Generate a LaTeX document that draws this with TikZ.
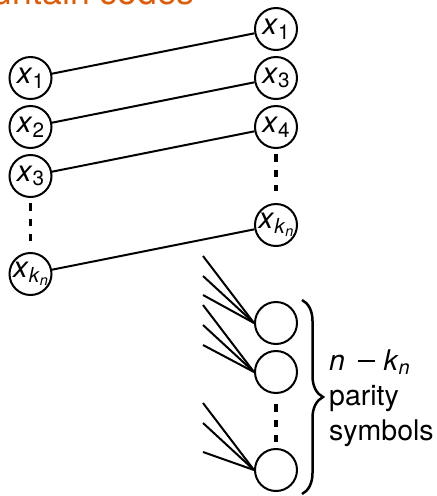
\documentclass[tikz,border=0pt]{standalone}
\usepackage{fontspec}
\setmainfont{TeX Gyre Heros}
\usetikzlibrary{decorations.pathreplacing}
\definecolor{titleorange}{RGB}{217,95,14}
% lowered, reduced subscript set in the text font
\newcommand{\lowsub}[1]{\raisebox{-0.16em}{\scalebox{0.7}{#1}}}
\newcommand{\xsym}[1]{\textit{x}\lowsub{#1}}
\newcommand{\xkn}{\textit{x}\lowsub{\textit{k}\lowsub{\textit{n}}}}
% long minus bar between the terms of the count
\newcommand{\minusbar}{\hspace{0.45em}\rule[0.28em]{0.6em}{0.07em}\hspace{0.3em}}

\begin{document}
\begin{tikzpicture}[x=1pt,y=-1pt,
  sym/.style={circle, draw, line width=2pt, minimum size=42pt, inner sep=0pt,
              font=\fontsize{29.5}{29.5}\selectfont},
  wire/.style={line width=2pt},
  gapline/.style={line width=3.2pt, dash pattern=on 7.5pt off 8pt},
  bracestyle/.style={line width=2.5pt, decorate,
              decoration={brace, amplitude=21pt}},
]
\useasboundingbox (0,0) rectangle (437,496);
\clip (0,0) rectangle (437,496);

% title
\node[anchor=base east, text=titleorange, inner sep=0pt,
      font=\fontsize{35.6}{40}\selectfont] (title) at (195,4.5) {Fountain codes};

% source symbols
\node[sym] (l1) at (30.5,78)  {\xsym{1}};
\node[sym] (l2) at (30.5,127) {\xsym{2}};
\node[sym] (l3) at (30.5,176) {\xsym{3}};
\node[sym] (lk) at (30.5,274) {\xkn};

% systematic part of the encoded stream
\node[sym] (r1) at (276,29)  {\xsym{1}};
\node[sym] (r3) at (276,78)  {\xsym{3}};
\node[sym] (r4) at (276,127) {\xsym{4}};
\node[sym] (rk) at (276,225) {\xkn};

% parity symbols
\node[sym] (p1) at (276,323) {};
\node[sym] (p2) at (276,372) {};
\node[sym] (p3) at (276,470) {};

% permutation wires
\draw[wire] (l1) -- (r1);
\draw[wire] (l2) -- (r3);
\draw[wire] (l3) -- (r4);
\draw[wire] (lk) -- (rk);

% vertical ellipses
\draw[gapline, shorten <=5pt, shorten >=11pt] (l3) -- (lk);
\draw[gapline, shorten <=5pt, shorten >=12pt] (r4) -- (rk);
\draw[gapline, shorten <=10pt, shorten >=6pt] (p2) -- (p3);

% inputs to the parity symbols
\coordinate (a1) at (203,256);
\coordinate (a2) at (203,276);
\coordinate (a3) at (203,295);
\coordinate (b1) at (203,305);
\coordinate (b2) at (203,325);
\coordinate (b3) at (203,345);
\coordinate (c1) at (203,403);
\coordinate (c2) at (203,423);
\coordinate (c3) at (203,452);
\foreach \s in {a1,a2,a3} \draw[wire] (\s) -- (p1.west);
\foreach \s in {b1,b2,b3} \draw[wire] (\s) -- (p2.west);
\foreach \s in {c1,c2,c3} \draw[wire] (\s) -- (p3.west);

% brace and its label
\coordinate (bt) at (302,300);
\coordinate (bb) at (302,494);
\draw[bracestyle] (bt) -- (bb);
\node[anchor=west, align=left, inner sep=0pt,
      font=\fontsize{28.5}{35}\selectfont] (lbl) at (329,398)
  {\textit{n}\minusbar\textit{k}\lowsub{\textit{n}}\\parity\\symbols};
\end{tikzpicture}
\end{document}
